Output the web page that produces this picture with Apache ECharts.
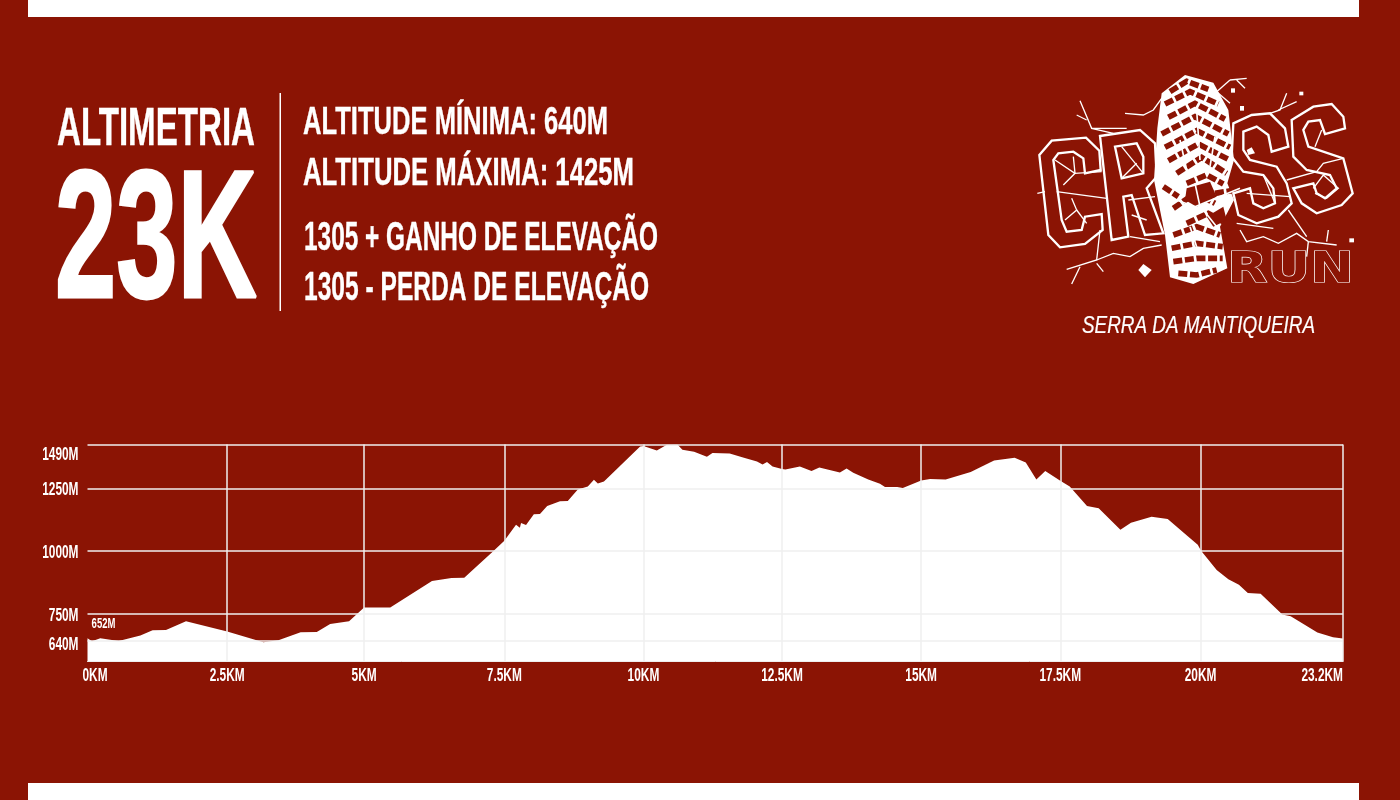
<!DOCTYPE html>
<html><head><meta charset="utf-8">
<style>html,body{margin:0;padding:0;background:#8b1404}#c{width:1400px;height:800px}</style>
<script src="https://cdn.jsdelivr.net/npm/echarts@6/dist/echarts.min.js"></script>
</head><body><div id="c"></div>
<script>
// ---- chart data (km, metres) ----
const distanceKm = [0,.08,.23,.56,.95,1.17,1.41,1.77,2.51,3.16,3.43,3.83,4.12,4.36,4.70,4.97,5.44,6.19,6.54,6.77,7.29,7.49,7.70,7.77,7.79,7.88,8.02,8.13,8.26,8.49,8.63,8.81,8.99,9.10,9.17,9.28,9.93,9.99,10.23,10.41,10.60,10.69,10.90,11.13,11.23,11.54,11.78,12.03,12.13,12.21,12.31,12.48,12.54,12.80,13.01,13.15,13.52,13.64,13.76,14.03,14.24,14.33,14.55,14.65,14.98,15.14,15.42,15.87,16.29,16.66,16.86,17.05,17.21,17.48,17.65,17.96,18.17,18.56,18.75,19.12,19.41,19.75,19.95,20.01,20.29,20.50,20.69,20.85,21.08,21.47,21.62,22.10,22.38,22.56];
const elevationM = [652,640,652,641,663,684,685,720,679,636,644,676,677,709,720,775,775,880,892,893,999,1041,1105,1093,1112,1104,1147,1148,1180,1199,1200,1245,1257,1284,1269,1277,1417,1419,1401,1424,1425,1404,1396,1376,1391,1389,1373,1357,1345,1355,1337,1327,1325,1337,1319,1333,1313,1329,1312,1285,1268,1255,1255,1251,1281,1287,1285,1315,1361,1372,1353,1285,1319,1280,1257,1180,1171,1085,1113,1137,1128,1063,1025,1001,924,887,865,832,829,747,740,675,656,651];
const xTickValues = [0,2.51,4.97,7.49,9.99,12.48,14.98,17.48,20.0,22.56];
const xTickLabels = ['0KM','2.5KM','5KM','7.5KM','10KM','12.5KM','15KM','17.5KM','20KM','23.2KM'];
const yTickValues = [640,750,1000,1250,1425];
const yTickLabels = ['640M','750M','1000M','1250M','1490M'];
const startLabel = '652M';
const headline = 'ALTIMETRIA', bigText = '23K';
const statLines = ['ALTITUDE MÍNIMA: 640M','ALTITUDE MÁXIMA: 1425M','1305 + GANHO DE ELEVAÇÃO','1305 - PERDA DE ELEVAÇÃO'];
const logoWord = 'RUN', logoTagline = 'SERRA DA MANTIQUEIRA';

const BG='#8b1404', W='#ffffff', FAMILY='"Liberation Sans",sans-serif';
const ctx=document.createElement('canvas').getContext('2d');
function fit(text,left,right,baseline,cap,o={}){
  const family=o.family||FAMILY, weight=o.weight||'bold', st=o.style||'normal';
  const fs=cap/0.716, font=`${st} ${weight} ${fs}px ${family}`;
  ctx.font=font; const w=ctx.measureText(text).width;
  return {type:'text',silent:true,x:left,y:baseline-0.295*fs,scaleX:(right-left)/w,z:5,
    style:{text,font,fill:o.fill||W,stroke:o.stroke||W,lineWidth:o.lw==null?0.4:o.lw,verticalAlign:'middle',align:'left'}};
}
// ---- logo artwork (drawing coordinates, decorative) ----
const letters=[
 [[28,285],[65,242],[168,233],[208,272],[212,330],[165,340],[160,295],[130,275],[85,280],[70,300],[95,480],[110,515],[155,510],[165,470],[215,462],[218,510],[165,552],[90,562],[55,525]],
 [[210,228],[330,210],[375,250],[380,350],[350,385],[400,520],[345,525],[305,405],[280,410],[295,530],[245,540]],
 [[255,260],[320,250],[340,290],[340,340],[275,355]],
 [[610,190],[665,165],[720,160],[765,205],[775,260],[725,275],[715,225],[680,200],[640,215],[640,270],[660,300],[740,320],[770,370],[785,430],[745,470],[680,490],[625,465],[610,400],[660,385],[670,430],[700,445],[735,430],[730,385],[700,345],[640,335],[605,290]],
 [[785,180],[850,140],[905,132],[940,170],[945,205],[885,222],[870,180],[835,185],[820,210],[835,260],[940,295],[968,400],[935,435],[860,460],[815,430],[790,385],[850,370],[860,400],[885,415],[920,385],[900,345],[830,330],[790,290]]
];
const cracks=[
 [[150,122],[185,205],[250,220]],[[140,165],[170,180]],[[185,205],[290,205]],[[285,160],[340,165],[370,150],[395,115]],
 [[600,60],[560,95]],[[600,60],[650,55]],[[620,60],[645,85]],[[770,100],[750,150],[720,160]],[[745,150],[800,125]],
 [[22,400],[45,395]],[[75,300],[135,340],[100,375]],[[80,395],[230,415]],[[125,415],[140,450],[105,480]],[[140,450],[170,490]],
 [[130,290],[135,340],[215,335]],[[275,260],[340,340]],[[320,310],[275,355]],[[295,420],[375,410]],[[305,465],[350,480]],[[300,530],[390,545]],
 [[210,510],[200,600],[110,628]],[[150,620],[125,672]],[[200,610],[220,635]],[[200,600],[250,580],[300,590],[340,565],[395,555]],
 [[630,510],[650,545],[700,530],[745,550],[800,520],[835,545],[920,555]],[[835,545],[830,590]],[[895,510],[890,545]],[[775,450],[830,530]],
 [[770,360],[860,335]],[[620,490],[730,505]],[[650,400],[780,410]],[[860,335],[880,310],[940,295]],[[850,385],[880,345],[925,385],[890,415],[855,400]],
 [[700,345],[735,430]],[[855,260],[875,210]],[[560,95],[600,130]]
];
const sole=[[395,100],[465,45],[550,68],[595,150],[612,300],[592,370],[612,420],[570,500],[592,625],[490,672],[420,652],[405,525],[372,360],[382,205]];
const treadGaps=[
 [[420,95],[470,64],[535,88]],[[405,132],[480,95],[565,132]],[[415,172],[495,130],[585,178]],[[395,222],[495,170],[595,222]],
 [[405,262],[500,212],[600,262]],[[415,302],[505,252],[595,298]],[[440,340],[515,292],[590,340]],
 [[400,380],[445,410]],[[470,370],[530,345],[580,372]],[[555,400],[605,392]],[[430,445],[495,400],[555,430]],
 [[470,490],[535,460],[580,485]],[[430,525],[500,500],[570,525]],[[425,565],[500,550],[578,560]],[[430,605],[500,595],[578,595]],[[445,640],[500,645],[560,630]]
];
const redPatches=[[[470,385],[540,365],[560,410],[500,440],[465,420]],[[530,470],[580,440],[590,480],[550,500]]];
const soleCracks=[[[400,480],[520,430],[630,385]],[[440,420],[520,450],[560,500]],[[495,370],[510,440]],[[480,500],[500,560]],[[390,350],[480,350]],[[500,150],[510,300]],[[450,240],[470,330]],[[555,230],[540,320]]];
const blobs=[[[325,630],[340,612],[365,630],[345,652]],[[650,270],[665,262],[675,280],[655,285]],[[958,535],[972,535],[972,547],[958,547]],[[808,95],[820,95],[820,106],[808,106]],[[603,85],[615,85],[615,98],[603,98]],[[630,138],[642,138],[642,152],[630,152]]];
const logoChildren=[];
cracks.forEach(p=>logoChildren.push({type:'polyline',silent:true,shape:{points:p},style:{stroke:W,fill:null,lineWidth:4}}));
letters.forEach(p=>logoChildren.push({type:'polygon',silent:true,shape:{points:p},style:{stroke:W,fill:null,lineWidth:7}}));
logoChildren.push({type:'polygon',silent:true,shape:{points:sole},style:{fill:W}});
treadGaps.forEach(p=>logoChildren.push({type:'polyline',silent:true,shape:{points:p},style:{stroke:BG,fill:null,lineWidth:17,lineDash:[27,8]}}));
redPatches.forEach(p=>logoChildren.push({type:'polygon',silent:true,shape:{points:p},style:{fill:BG}}));
soleCracks.forEach(p=>logoChildren.push({type:'polyline',silent:true,shape:{points:p},style:{stroke:W,fill:null,lineWidth:5}}));
blobs.forEach(p=>logoChildren.push({type:'polygon',silent:true,shape:{points:p},style:{fill:W}}));

const labelStyle={color:W,fontFamily:FAMILY,fontWeight:'bold',fontSize:18};
const chart=echarts.init(document.getElementById('c'));
chart.setOption({
  animation:false, backgroundColor:BG,
  graphic:[
    {type:'rect',silent:true,shape:{x:28,y:0,width:1331,height:17},style:{fill:W}},
    {type:'rect',silent:true,shape:{x:28,y:783,width:1331,height:17},style:{fill:W}},
    {type:'rect',silent:true,shape:{x:279.5,y:93,width:1.5,height:218},style:{fill:W}},
    fit(headline,57,255,146,39),
    fit(bigText,55,257,300,130,{lw:3}),
    fit(statLines[0],303,608,135,28),
    fit(statLines[1],303,634,186,28),
    fit(statLines[2],304,658,251,29),
    fit(statLines[3],304,649,301,29),
    {type:'group',x:1030,y:60,scaleX:1/3,scaleY:1/3,silent:true,children:logoChildren},
    fit(logoWord,1227,1354,283,30,{family:'"DejaVu Sans"',fill:BG,lw:1.2}),
    fit(logoTagline,1082,1315,333,17.5,{weight:'normal',style:'italic',lw:0.2})
  ],
  grid:{left:87.5,right:57,top:444.5,bottom:138.5},
  xAxis:{type:'value',min:0,max:22.56,z:5,
    axisLine:{show:true,lineStyle:{color:'#eeeeee',width:1}},axisTick:{show:false,customValues:xTickValues},
    splitLine:{show:true,showMinLine:false,lineStyle:{color:'#efefef',width:1.5}},
    axisLabel:Object.assign({customValues:xTickValues,margin:6,alignMinLabel:'left',alignMaxLabel:'right',
      formatter:v=>xTickLabels[xTickValues.indexOf(v)]},labelStyle)},
  yAxis:{type:'value',min:559,max:1425,z:5,
    axisLine:{show:false},axisTick:{show:false,customValues:yTickValues},
    splitLine:{show:true,lineStyle:{color:'#efefef',width:1.5}},
    axisLabel:Object.assign({customValues:yTickValues,margin:9,verticalAlignMaxLabel:'top',
      formatter:v=>yTickLabels[yTickValues.indexOf(v)]},labelStyle)},
  series:[{type:'line',symbol:'none',smooth:false,z:2,
    lineStyle:{width:0},areaStyle:{color:W,opacity:1},
    data:distanceKm.map((k,i)=>[k,elevationM[i]]),
    markPoint:{symbol:'circle',symbolSize:0,silent:true,
      label:{show:true,color:W,fontFamily:FAMILY,fontWeight:'bold',fontSize:14,position:'top',offset:[16,-2],formatter:startLabel},
      data:[{coord:[distanceKm[0],elevationM[0]]}]}
  }]
});
// The poster's labels are set in a condensed face; no condensed font is installed, so squeeze the library's own label text.
const squeeze=new Set([...xTickLabels,...yTickLabels,startLabel]);
const zr=chart.getZr();
zr.storage.getDisplayList(true).forEach(el=>{
  const t=el.style&&el.style.text;
  if(typeof t==='string'&&squeeze.has(t)){
    el.scaleX=t===startLabel?0.68:0.66;
    if(t==='0KM') el.x=-5;
    if(yTickLabels.includes(t)) el.y=(t==='640M')?4:2;
    el.markRedraw();
  }
});
zr.refreshImmediately();
</script></body></html>
